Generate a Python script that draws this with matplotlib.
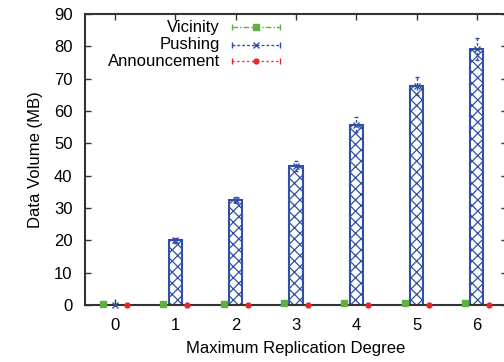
import matplotlib
matplotlib.use("Agg")
import matplotlib.pyplot as plt
import numpy as np

plt.rcParams['font.family'] = ['Liberation Sans', 'DejaVu Sans']
plt.rcParams['hatch.linewidth'] = 0.9

degrees = [0, 1, 2, 3, 4, 5, 6]
series_names = ["Vicinity", "Pushing", "Announcement"]
vicinity = [0.3, 0.4, 0.4, 0.5, 0.5, 0.5, 0.6]
pushing = [0.0, 20.0, 32.5, 43.0, 55.7, 67.6, 79.3]
pushing_err = [0.0, 0.7, 1.0, 1.5, 2.3, 2.8, 3.4]
announcement = [0.0, 0.0, 0.0, 0.0, 0.0, 0.0, 0.0]

c_green = "#5fb041"
c_blue = "#3150a5"
c_red = "#e8242c"

fig = plt.figure(figsize=(5.04, 3.62), dpi=100)
ax = fig.add_axes([85/504, 1-305/362, 422/504, 291/362])

x = np.array(degrees, dtype=float)
off = 0.2

# Pushing bars
ax.bar(x[1:], pushing[1:], width=0.22, facecolor="white", edgecolor=c_blue,
       hatch="xxx", linewidth=1.5, zorder=2)
# Pushing error bars
eb = ax.errorbar(x, pushing, yerr=pushing_err, fmt="none", ecolor=c_blue,
                 elinewidth=1.0, capsize=1.5, capthick=1.0, zorder=3)
for lc in eb[2]:
    lc.set_linestyle((0, (2, 1.5)))
ax.plot(x, pushing, linestyle="none", marker="x", color=c_blue,
        markersize=4, markeredgewidth=1.0, zorder=4, clip_on=False)

# Vicinity and Announcement points
ax.plot(x - off, vicinity, linestyle="none", marker="s", color=c_green,
        markersize=4.5, zorder=4, clip_on=False)
ax.plot(x + off, announcement, linestyle="none", marker="o", color=c_red,
        markersize=3.5, zorder=4, clip_on=False)

ax.set_xlim(-0.5, 6.5)
ax.set_ylim(0, 90)
ax.set_xticks(degrees)
ax.set_xticklabels([str(d) for d in degrees])
ax.set_yticks(np.arange(0, 91, 10))
ax.tick_params(direction="in", length=4, width=1.0, top=True, right=True,
               labelsize=12, pad=9, colors="#333333", labelcolor="black")
for sp in ax.spines.values():
    sp.set_linewidth(1.5)
    sp.set_color("#333333")
ax.set_xlabel("Maximum Replication Degree", fontsize=12, labelpad=6)
ax.set_ylabel("Data Volume (MB)", fontsize=12, labelpad=8)

# Legend (gnuplot style: right-aligned text, sample on the right)
styles = [
    dict(color=c_green, ls=(0, (4, 1.5, 1, 1.5)), marker="s", ms=4.5),
    dict(color=c_blue, ls=(0, (2, 1.5)), marker="x", ms=4),
    dict(color=c_red, ls=(0, (1.5, 2)), marker="o", ms=3.5),
]
rows = [0.955, 0.895, 0.837]
tx, x0, x1, xm = 0.32, 0.348, 0.462, 0.405
for name, st, yy in zip(series_names, styles, rows):
    ax.text(tx, yy, name, transform=ax.transAxes, ha="right", va="center",
            fontsize=12)
    ax.plot([x0, x1], [yy, yy], transform=ax.transAxes, color=st["color"],
            linestyle=st["ls"], linewidth=1.0, clip_on=False)
    ax.plot([x0, x1], [yy, yy], transform=ax.transAxes, color=st["color"],
            linestyle="none", marker="|", markersize=4, markeredgewidth=1.0,
            clip_on=False)
    ax.plot([xm], [yy], transform=ax.transAxes, color=st["color"],
            linestyle="none", marker=st["marker"], markersize=st["ms"],
            markeredgewidth=1.0, clip_on=False)

fig.savefig("out.png", dpi=100)
